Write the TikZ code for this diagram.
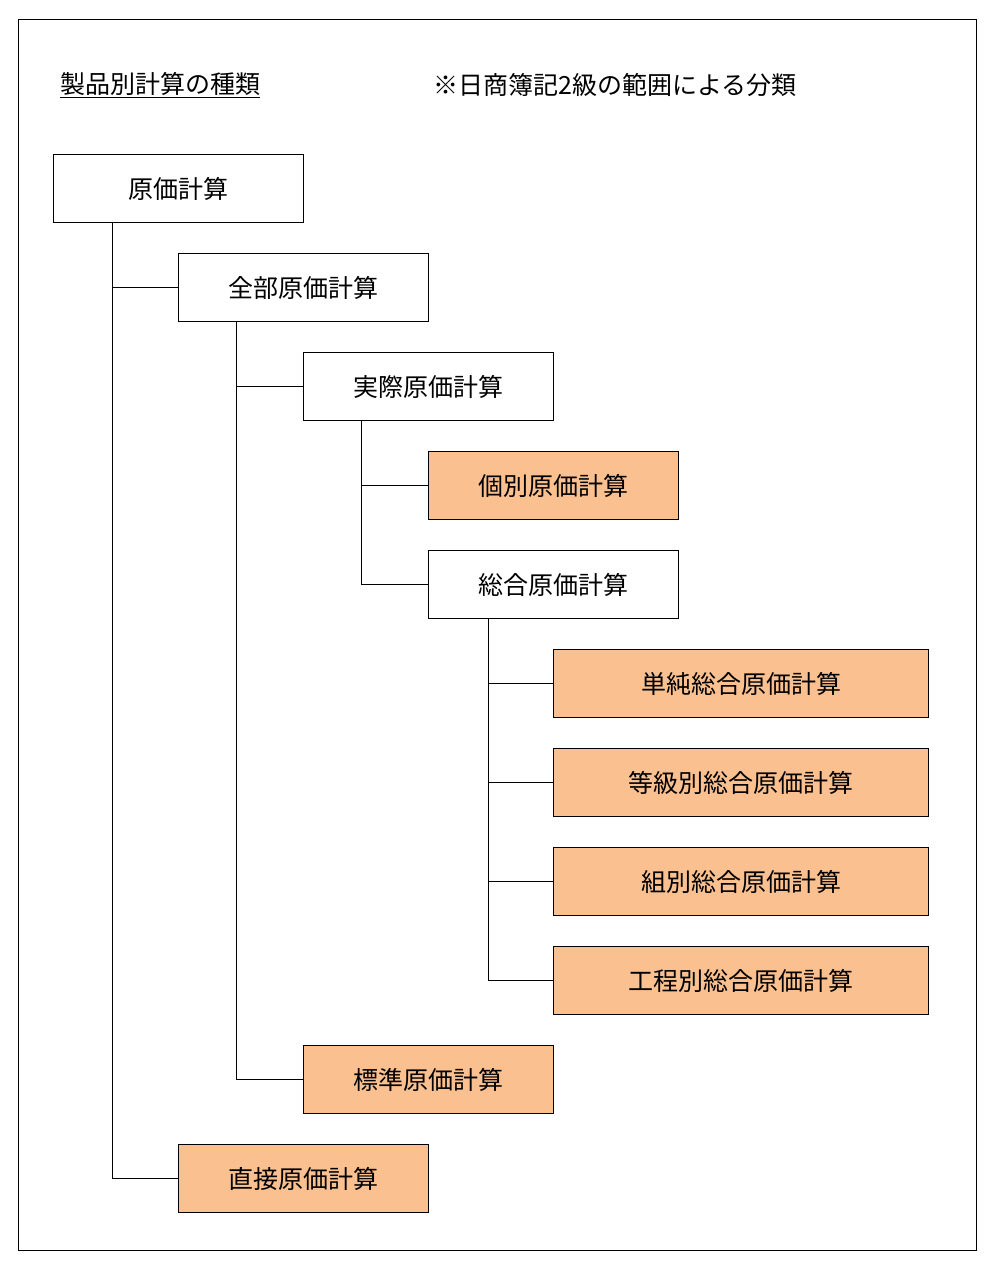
\documentclass[tikz,border=0pt]{standalone}
\usepackage{fontspec}
\newfontfamily\cjk{Noto Sans CJK JP}
\definecolor{boxorange}{HTML}{FAC090}
\begin{document}
\begin{tikzpicture}[x=1pt,y=-1pt,
  box/.style={draw=black,line width=1pt,minimum height=68pt,inner sep=0pt,font=\cjk\fontsize{25}{30}\selectfont,anchor=north west},
  w/.style={box,minimum width=250pt},
  ww/.style={box,minimum width=375pt},
  hl/.style={fill=boxorange},
  conn/.style={draw=black,line width=1pt}]
\useasboundingbox (0,0) rectangle (1000,1276);
\fill[white] (0,0) rectangle (1000,1276);
\draw[line width=1pt] (18,20) rectangle (976,1250);
\node[font=\cjk\fontsize{25}{30}\selectfont,anchor=west,inner sep=0pt] (title) at (60,85) {\underline{製品別計算の種類}};
\node[font=\cjk\fontsize{25}{30}\selectfont,anchor=west,inner sep=0pt] (note) at (433,85) {※日商簿記2級の範囲による分類};
\node[w] (a) at (53,154) {原価計算};
\node[w] (b) at (178,253) {全部原価計算};
\node[w] (c) at (303,352) {実際原価計算};
\node[w,hl] (d) at (428,451) {個別原価計算};
\node[w] (e) at (428,550) {総合原価計算};
\node[ww,hl] (f1) at (553,649) {単純総合原価計算};
\node[ww,hl] (f2) at (553,748) {等級別総合原価計算};
\node[ww,hl] (f3) at (553,847) {組別総合原価計算};
\node[ww,hl] (f4) at (553,946) {工程別総合原価計算};
\node[w,hl] (g) at (303,1045) {標準原価計算};
\node[w,hl] (h) at (178,1144) {直接原価計算};
\coordinate (ta) at ([xshift=59pt]a.south west);
\coordinate (tb) at ([xshift=58pt]b.south west);
\coordinate (tc) at ([xshift=58pt]c.south west);
\coordinate (te) at ([xshift=60pt]e.south west);
\draw[conn] (ta) |- (h.west);
\draw[conn] (ta |- b.west) -- (b.west);
\draw[conn] (tb) |- (g.west);
\draw[conn] (tb |- c.west) -- (c.west);
\draw[conn] (tc) |- (e.west);
\draw[conn] (tc |- d.west) -- (d.west);
\draw[conn] (te) |- (f4.west);
\draw[conn] (te |- f1.west) -- (f1.west);
\draw[conn] (te |- f2.west) -- (f2.west);
\draw[conn] (te |- f3.west) -- (f3.west);
\end{tikzpicture}
\end{document}
